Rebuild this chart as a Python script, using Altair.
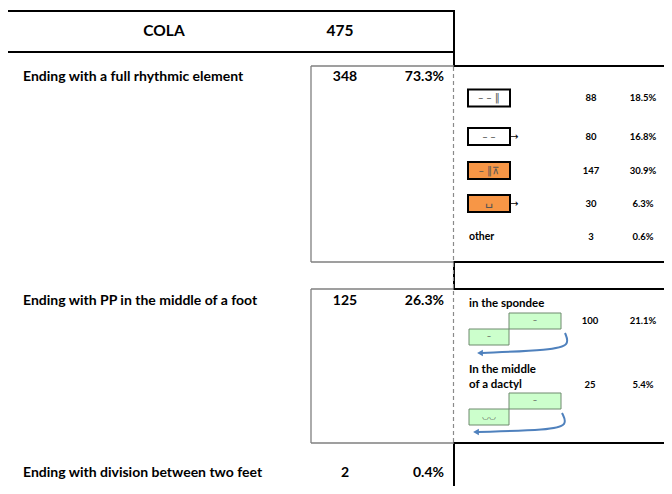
import altair as alt
import pandas as pd

# ---------------- data ----------------
header_label = "COLA"
total = 475
categories = [
    "Ending with a full rhythmic element",
    "Ending with PP in the middle of a foot",
    "Ending with division between two feet",
]
counts = [348, 125, 2]
percents = ["73.3%", "26.3%", "0.4%"]

sub_symbols = ["– – ‖", "– –", "– ‖⊼", "␣", "other"]
sub_counts = [88, 80, 147, 30, 3]
sub_percents = ["18.5%", "16.8%", "30.9%", "6.3%", "0.6%"]
sub_fills = ["white", "white", "#f79646", "#f79646", None]
sub_arrows = [False, True, False, True, False]

pp_labels = [["in the spondee"], ["In the middle", "of a dactyl"]]
pp_counts = [100, 25]
pp_percents = ["21.1%", "5.4%"]
pp_symbols = [["–", "–"], ["–", "◡◡"]]

# ---------------- layout ----------------
W, H = 656, 478
FONT = "Lato"
xs = alt.Scale(domain=[8, 8 + W], nice=False, zero=False)
ys = alt.Scale(domain=[8, 8 + H], nice=False, zero=False, reverse=True)

row_y = [77, 301, 473]
sub_y = [98, 136.5, 170.5, 203.5, 237]
pp_label_y = [[304], [370, 385]]
pp_value_y = [321, 385]
pp_box_top = [313, 393]


def X(f="x"):
    return alt.X(f"{f}:Q", scale=xs, axis=None)


def Y(f="y"):
    return alt.Y(f"{f}:Q", scale=ys, axis=None)


def rules(rows, color, width, dash=None):
    df = pd.DataFrame(rows, columns=["x", "y", "x2", "y2"])
    kw = dict(color=color, strokeWidth=width)
    if dash:
        kw["strokeDash"] = dash
    return alt.Chart(df).mark_rule(**kw).encode(
        x=X(), y=Y(), x2="x2:Q", y2="y2:Q"
    )


def texts(rows, size, align="center", weight="bold", color="black", font=FONT):
    df = pd.DataFrame(rows, columns=["x", "y", "t"])
    return alt.Chart(df).mark_text(
        align=align, baseline="middle", fontSize=size, fontWeight=weight,
        color=color, font=font
    ).encode(x=X(), y=Y(), text="t:N")


layers = []

# thick frame lines
layers.append(rules([
    (7, 11, 455, 11),
    (7, 52, 455, 52),
    (7, 10, 7, 494),
    (454, 10, 454, 67),
    (454, 66, 672, 66),
    (454, 262, 672, 262),
    (454, 289, 672, 289),
    (454, 261, 454, 290),
    (454, 443, 672, 443),
    (454, 442, 454, 494),
], "black", 2))

# thin grey boxes
layers.append(rules([
    (311, 66, 454, 66),
    (311, 66, 311, 262),
    (311, 262, 454, 262),
    (311, 289, 454, 289),
    (311, 289, 311, 443),
    (311, 443, 454, 443),
], "#7f7f7f", 1.3))

# dashed separator
layers.append(rules([(453.5, 67, 453.5, 442)], "#8a8a8a", 1.2, [4, 3]))

# sub-boxes (full rhythmic element)
box_rows = []
for i, f in enumerate(sub_fills):
    if f is None:
        continue
    box_rows.append(dict(x=468, x2=510, y=sub_y[i] - 8.5, y2=sub_y[i] + 8.5, fill=f))
bdf = pd.DataFrame(box_rows)
layers.append(alt.Chart(bdf).mark_rect(stroke="black", strokeWidth=2).encode(
    x=X(), x2="x2:Q", y=Y(), y2="y2:Q", fill=alt.Fill("fill:N", scale=None)
))

# green boxes (PP)
g_rows = []
for k, top in enumerate(pp_box_top):
    g_rows.append(dict(x=509, x2=561, y=top, y2=top + 16))
    g_rows.append(dict(x=469, x2=509, y=top + 16, y2=top + 32))
gdf = pd.DataFrame(g_rows)
layers.append(alt.Chart(gdf).mark_rect(fill="#ccffcc", stroke="#6e8a6e", strokeWidth=1).encode(
    x=X(), x2="x2:Q", y=Y(), y2="y2:Q"
))

# box symbols
sym_rows = []
for i, s in enumerate(sub_symbols):
    if sub_fills[i] is None:
        continue
    sym_rows.append((489, sub_y[i], s))
layers.append(texts(sym_rows[:3], 10, weight="normal", color="#555555", font="DejaVu Sans"))
layers.append(texts([(r[0], r[1] - 3, r[2]) for r in sym_rows[3:]], 13, weight="normal",
                    color="#555555", font="DejaVu Sans"))
g_sym = []
for k, top in enumerate(pp_box_top):
    g_sym.append((535, top + 8, pp_symbols[k][0]))
    g_sym.append((489, top + 24, pp_symbols[k][1]))
layers.append(texts(g_sym, 8, weight="normal", color="#555555", font="DejaVu Sans"))

# small arrows
arr_rows = [(510, sub_y[i], "→") for i, a in enumerate(sub_arrows) if a]
layers.append(texts(arr_rows, 10, align="left", weight="normal", font="DejaVu Sans"))

# "other"
layers.append(texts([(469, sub_y[4], sub_symbols[4])], 10.5, align="left"))

# sub counts / percents
layers.append(texts([(591, sub_y[i], str(c)) for i, c in enumerate(sub_counts)], 9.5))
layers.append(texts([(643, sub_y[i], p) for i, p in enumerate(sub_percents)], 9.5))

# PP labels / values
pl = []
for k, lines in enumerate(pp_labels):
    for j, line in enumerate(lines):
        pl.append((469, pp_label_y[k][j], line))
layers.append(texts(pl, 11.5, align="left"))
layers.append(texts([(590, pp_value_y[k], str(c)) for k, c in enumerate(pp_counts)], 9.5))
layers.append(texts([(643, pp_value_y[k], p) for k, p in enumerate(pp_percents)], 9.5))

# blue curved arrows
curve_pts = [
    [(565, 333), (570, 345), (552, 350), (482, 353)],
    [(562, 413), (568, 425), (550, 430), (478, 432)],
]
crows = []
for k, pts in enumerate(curve_pts):
    for j, (cx, cy) in enumerate(pts):
        crows.append(dict(x=cx, y=cy, g=k, o=j))
cdf = pd.DataFrame(crows)
layers.append(alt.Chart(cdf).mark_line(color="#4f81bd", strokeWidth=2, interpolate="basis").encode(
    x=X(), y=Y(), detail="g:N", order="o:Q"
))
heads = pd.DataFrame([dict(x=pts[-1][0] - 2, y=pts[-1][1]) for pts in curve_pts])
layers.append(alt.Chart(heads).mark_point(shape="triangle-left", filled=True, color="#4f81bd",
                                          size=45, opacity=1).encode(x=X(), y=Y()))

# header
layers.append(texts([(164, 31, header_label), (340, 31, str(total))], 15.5))

# main rows
layers.append(texts([(23, row_y[i], c) for i, c in enumerate(categories)], 14, align="left"))
layers.append(texts([(345, row_y[i], str(c)) for i, c in enumerate(counts)], 14))
layers.append(texts([(444, row_y[i], p) for i, p in enumerate(percents)], 14, align="right"))

chart = alt.layer(*layers).properties(
    width=W, height=H, autosize=alt.AutoSizeParams(type="none"), padding=0,
    background="white"
).configure_view(strokeWidth=0)

chart.save("out.html", embed_options={"renderer": "svg", "actions": False})
